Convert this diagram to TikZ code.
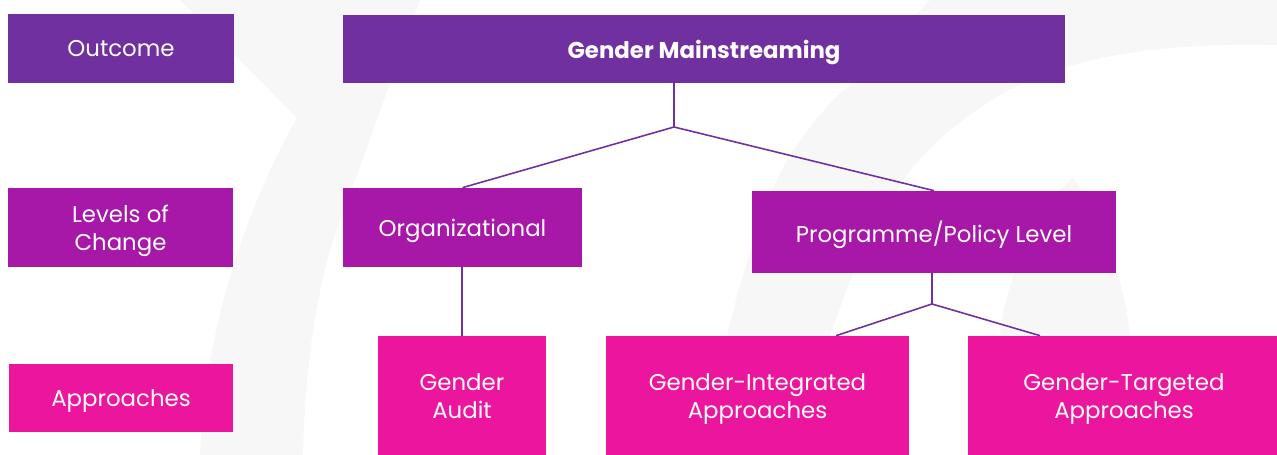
\documentclass[tikz,border=0pt]{standalone}
\usepackage{fontspec}
\setmainfont{Poppins}
\definecolor{outcomepurple}{HTML}{7030A0}
\definecolor{levelpurple}{HTML}{A717A8}
\definecolor{approachpink}{HTML}{EC169E}
\definecolor{watermark}{HTML}{F7F7F7}
\begin{document}
\begin{tikzpicture}[x=0.02cm,y=-0.02cm,
    box/.style={draw=none,inner sep=0pt,align=center,text=white,text depth=0pt,
      font=\fontsize{13}{16}\selectfont},
    outbox/.style={box,fill=outcomepurple},
    lvlbox/.style={box,fill=levelpurple},
    appbox/.style={box,fill=approachpink},
    link/.style={draw=outcomepurple,line width=0.9pt}]
  \useasboundingbox (0,0) rectangle (1277,455);
  % faint background shapes
  \fill[watermark] (180,0) -- (297,118) .. controls (245,210) and (205,330) .. (200,455)
    -- (303,455) .. controls (306,340) and (322,262) .. (348,200) -- (420,0) -- cycle;
  \fill[watermark] (727,336) .. controls (745,260) and (765,200) .. (787,160)
    .. controls (810,125) and (830,100) .. (853,83) -- (930,0) -- (1277,0) -- (1277,45)
    .. controls (1150,42) and (1060,60) .. (1000,95)
    .. controls (950,125) and (915,160) .. (900,185)
    .. controls (870,230) and (845,290) .. (830,336) -- cycle;
  \fill[watermark] (1000,336) .. controls (1003,290) and (1030,220) .. (1073,177)
    .. controls (1100,220) and (1125,280) .. (1130,336) -- cycle;
  % left column
  \node[outbox,minimum width=4.52cm,minimum height=1.38cm] (outcome) at (121,48.5) {Outcome};
  \node[lvlbox,minimum width=4.5cm,minimum height=1.58cm] (levels) at (120.5,227.5) {Levels of\\Change};
  \node[appbox,minimum width=4.48cm,minimum height=1.36cm] (approaches) at (121,398) {Approaches};
  % tree
  \node[outbox,minimum width=14.44cm,minimum height=1.36cm,
    font=\fontsize{13}{16}\selectfont\bfseries] (gm) at (704,49) {Gender Mainstreaming};
  \node[lvlbox,minimum width=4.78cm,minimum height=1.58cm] (org) at (462.5,227.5) {Organizational};
  \node[lvlbox,minimum width=7.28cm,minimum height=1.64cm] (prog) at (934,232) {Programme/Policy Level};
  \node[appbox,minimum width=3.36cm,minimum height=2.4cm] (audit) at (462,396) {Gender\\Audit};
  \node[appbox,minimum width=6.06cm,minimum height=2.4cm] (integ) at (757.5,396) {Gender-Integrated\\Approaches};
  \node[appbox,minimum width=6.24cm,minimum height=2.4cm] (targ) at (1124,396) {Gender-Targeted\\Approaches};
  \coordinate (gmfork) at (674,127);
  \coordinate (progfork) at (932,304);
  \coordinate (integjoin) at (836,336);
  \coordinate (targjoin) at (1040,336);
  \begin{scope}[link]
    \draw (gm.south -| gmfork) -- (gmfork);
    \draw (gmfork) -- (org.north);
    \draw (gmfork) -- (prog.north);
    \draw (org.south -| audit.north) -- (audit.north);
    \draw (prog.south -| progfork) -- (progfork);
    \draw (progfork) -- (integ.north -| integjoin);
    \draw (progfork) -- (targ.north -| targjoin);
  \end{scope}
\end{tikzpicture}
\end{document}
